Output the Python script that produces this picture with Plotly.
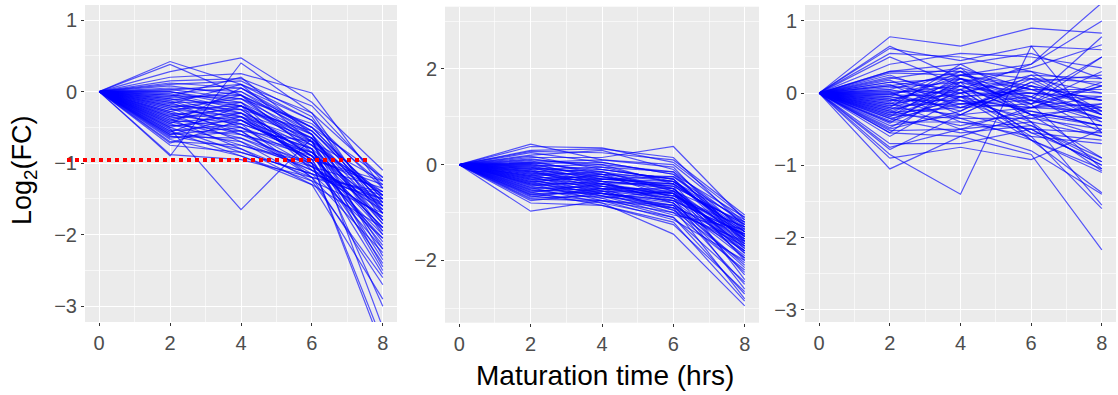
import plotly.graph_objects as go

times = [0, 2, 4, 6, 8]

# Panel 1 (left) values at t = 2, 4, 6, 8 (t = 0 is 0 for every line)
p1_t2 = [0.42, 0.38, 0.28, 0.20, 0.15, 0.12, 0.10, 0.08, 0.05, 0.03, 0.02, 0.00, 0.00, -0.02, -0.03, -0.05, -0.05, -0.07,
         -0.08, -0.10, -0.10, -0.12, -0.13, -0.15, -0.15, -0.17, -0.18, -0.20, -0.20, -0.22, -0.23, -0.25, -0.25, -0.27,
         -0.28, -0.30, -0.30, -0.32, -0.33, -0.35, -0.35, -0.37, -0.38, -0.40, -0.40, -0.42, -0.43, -0.45, -0.45, -0.47,
         -0.48, -0.50, -0.50, -0.52, -0.53, -0.55, -0.55, -0.57, -0.58, -0.60, -0.60, -0.62, -0.63, -0.65, -0.67, -0.70,
         -0.72, -0.75, -0.90, -0.88]
p1_t4 = [0.10, -0.05, 0.47, 0.25, 0.18, 0.05, 0.15, -0.05, 0.00, -0.10, 0.10, -0.20, -0.15, 0.05, -0.25, -0.10, -0.30, 0.20,
         -0.05, -0.35, -0.20, 0.00, -0.40, -0.15, -0.50, 0.10, -0.30, -0.25, -0.45, -0.10, -0.60, -0.35, -0.20, -0.55,
         -0.05, -0.40, -0.70, -0.25, -0.45, -0.15, -0.60, -0.30, -0.80, -0.50, -0.20, -0.65, -0.35, -0.75, 0.05, -0.55,
         -0.40, -0.85, -0.30, -1.65, -0.60, -0.45, -0.90, -0.20, -0.70, -0.50, -0.35, -0.80, -0.65, -0.55, -0.90, -0.75,
         -0.40, -0.85, 0.40, -0.95]
p1_t6 = [-0.30, -0.55, -0.15, -0.02, -0.20, -0.40, -0.35, -0.50, -0.60, -0.45, -0.70, -0.65, -0.80, -0.55, -0.90, -0.75,
         -1.00, -0.60, -0.85, -0.70, -1.10, -0.50, -0.95, -0.65, -1.05, -0.40, -0.80, -0.90, -1.20, -0.60, -0.85, -1.00,
         -0.75, -1.15, -0.70, -0.95, -1.25, -0.55, -0.80, -1.05, -0.90, -0.65, -1.30, -0.85, -0.70, -1.10, -0.95, -1.00,
         -0.50, -1.20, -0.75, -1.15, -0.90, -0.65, -1.05, -0.80, -1.25, -0.60, -1.10, -0.95, -0.85, -1.20, -1.00, -0.70,
         -1.30, -1.05, -0.90, -1.15, -0.30, -1.20]
p1_t8 = [-1.20, -1.45, -1.10, -1.35, -1.25, -1.60, -1.80, -1.50, -2.00, -1.30, -2.20, -1.70, -2.50, -1.55, -1.90, -1.40,
         -3.50, -1.65, -2.10, -1.45, -1.75, -1.20, -2.40, -1.85, -1.60, -1.35, -3.00, -1.95, -1.50, -2.30, -1.70, -3.60,
         -1.45, -2.05, -1.80, -1.25, -2.60, -1.55, -1.65, -2.20, -1.40, -3.30, -1.90, -1.60, -2.45, -1.75, -1.30, -2.00,
         -1.50, -2.70, -1.85, -1.45, -2.15, -1.60, -1.35, -2.35, -1.70, -1.95, -1.50, -2.55, -1.80, -1.40, -2.05, -1.25,
         -2.90, -1.65, -1.90, -1.55, -1.70, -2.25]

# Panel 2 (middle)
p2_t2 = [0.43, 0.38, 0.30, 0.28, 0.25, 0.20, 0.18, 0.15, 0.12, 0.10, 0.08, 0.05, 0.05, 0.03, 0.02, 0.00, 0.00, -0.02,
         -0.03, -0.05, -0.05, -0.07, -0.08, -0.10, -0.10, -0.12, -0.13, -0.15, -0.15, -0.17, -0.18, -0.20, -0.20, -0.22,
         -0.23, -0.25, -0.25, -0.27, -0.28, -0.30, -0.30, -0.32, -0.33, -0.35, -0.35, -0.37, -0.38, -0.40, -0.40, -0.42,
         -0.43, -0.45, -0.47, -0.48, -0.50, -0.52, -0.53, -0.55, -0.57, -0.58, -0.60, -0.62, -0.63, -0.65, -0.67, -0.70,
         -0.72, -0.75, -0.80, -0.97]
p2_t4 = [0.10, 0.35, 0.33, 0.25, 0.05, 0.30, -0.10, 0.15, -0.05, 0.00, -0.20, 0.10, -0.15, -0.30, 0.05, -0.25, -0.10,
         -0.35, 0.00, -0.20, -0.40, -0.15, -0.30, -0.45, -0.05, -0.25, -0.50, -0.35, -0.10, -0.40, -0.20, -0.55, -0.30,
         -0.45, -0.15, -0.60, -0.35, -0.50, -0.25, -0.65, -0.40, -0.30, -0.55, -0.45, -0.70, -0.20, -0.60, -0.40, -0.75,
         -0.50, -0.35, -0.65, -0.55, -0.80, -0.45, -0.60, -0.70, -0.50, -0.85, -0.40, -0.60, -0.75, -0.55, -0.80, -0.50,
         -0.65, -0.75, -0.60, -0.85, -0.75]
p2_t6 = [0.00, 0.05, 0.15, 0.10, -0.20, -0.10, -0.30, 0.38, -0.15, -0.40, -0.25, -0.05, -0.50, -0.35, -0.20, -0.60,
         -0.30, -0.45, -0.15, -0.70, -0.40, -0.55, -0.25, -0.80, -0.35, -0.50, -0.65, -0.45, -0.30, -0.75, -0.55, -0.90,
         -0.40, -0.60, -0.35, -1.00, -0.50, -0.70, -0.45, -0.85, -0.60, -0.40, -0.95, -0.55, -1.10, -0.35, -0.75, -0.65,
         -0.90, -0.50, -0.80, -1.05, -0.60, -1.45, -0.70, -0.85, -0.55, -0.95, -1.20, -0.65, -0.80, -1.00, -0.70, -1.10,
         -0.60, -0.90, -1.15, -0.75, -1.25, -0.85]
p2_t8 = [-1.20, -1.10, -1.30, -1.05, -1.50, -1.40, -1.70, -1.15, -1.25, -2.00, -1.35, -1.60, -1.80, -1.45, -1.10, -2.30,
         -1.55, -1.25, -1.65, -2.60, -1.40, -1.75, -1.20, -2.10, -1.50, -1.85, -1.30, -2.40, -1.60, -1.45, -1.95, -2.80,
         -1.35, -1.70, -1.15, -2.20, -1.55, -1.80, -1.25, -2.50, -1.65, -1.40, -2.05, -1.50, -2.70, -1.30, -1.90, -1.60,
         -1.45, -1.75, -2.15, -1.35, -1.85, -2.95, -1.55, -2.25, -1.20, -1.70, -2.85, -1.40, -1.95, -1.60, -1.30, -2.45,
         -1.50, -1.80, -2.00, -1.45, -2.65, -1.65]

# Panel 3 (right)
p3_t2 = [0.78, 0.65, 0.62, 0.55, 0.50, 0.40, 0.30, 0.30, 0.28, 0.25, 0.22, 0.20, 0.18, 0.15, 0.15, 0.12, 0.10, 0.10,
         0.08, 0.05, 0.05, 0.03, 0.02, 0.00, 0.00, -0.02, -0.03, -0.05, -0.05, -0.07, -0.08, -0.10, -0.10, -0.12, -0.13,
         -0.15, -0.15, -0.17, -0.18, -0.20, -0.20, -0.22, -0.23, -0.25, -0.25, -0.27, -0.28, -0.30, -0.30, -0.32, -0.33,
         -0.35, -0.35, -0.38, -0.40, -0.40, -0.42, -0.45, -0.48, -0.50, -0.52, -0.55, -0.55, -0.60, -0.70, -0.75, -0.78,
         -0.85, -0.90, -1.05]
p3_t4 = [0.65, 0.20, 0.45, 0.50, 0.10, 0.55, 0.30, 0.40, 0.25, -0.10, 0.00, 0.35, -0.20, 0.20, 0.05, -0.30, 0.25, -0.05,
         0.15, -0.15, 0.30, 0.00, -0.40, 0.10, -0.25, 0.20, -0.05, 0.35, -0.20, 0.05, -0.35, 0.15, -0.10, 0.25, -0.50,
         0.00, 0.30, -0.15, 0.10, -0.30, 0.40, -0.05, 0.20, -0.45, 0.05, -0.20, 0.15, -0.35, 0.00, -0.10, 0.25, -0.55,
         -0.15, 0.10, -0.40, -0.05, 0.20, -0.30, 0.05, -0.25, -0.50, 0.15, -0.60, -0.05, -0.70, -0.50, -0.30, -1.40,
         -0.75, -0.60]
p3_t6 = [0.90, -0.10, 0.65, 0.30, -0.30, 0.50, -0.15, 0.55, 0.40, -0.20, 0.25, -0.40, 0.10, -0.05, -0.55, 0.15, 0.05,
         -0.25, 0.35, -0.10, -0.30, 0.20, -0.50, -0.05, 0.25, -0.20, -0.65, 0.05, -0.15, 0.40, -0.35, 0.00, -0.45, 0.10,
         -0.20, -0.60, 0.20, -0.05, -0.30, 0.15, -0.10, -0.40, 0.05, -0.25, -0.55, 0.10, -0.15, -0.65, 0.00, -0.35, 0.30,
         -0.45, -0.20, -0.10, -0.60, 0.05, -0.30, -0.50, -0.15, 0.20, -0.40, -0.65, -0.30, 0.00, -0.50, -0.80, -0.20,
         0.65, -0.92, -0.85]
p3_t8 = [0.83, 0.78, -0.55, 0.10, -0.90, 0.35, -1.05, 0.20, 1.25, 0.15, -0.30, -1.55, -0.10, 0.50, -0.95, -0.25, 0.05,
         -0.45, 0.67, -0.20, -0.60, 0.00, -1.00, -0.35, 0.20, -0.15, -1.38, -0.30, 0.10, 1.00, -0.50, -0.05, -0.90, -0.40,
         -0.25, -1.60, 0.15, -0.55, -0.20, 0.25, -0.35, -1.08, 0.00, -0.45, -0.65, -0.10, 0.50, -1.05, -0.30, -0.15,
         -0.25, -0.95, 0.10, -0.40, -0.70, -0.20, -0.45, -1.00, 0.30, -0.30, -0.60, -1.10, -0.35, -0.10, -0.55, -1.40,
         -0.05, 0.60, -0.50, -2.17]

x_ticks = [0, 2, 4, 6, 8]
x_minor = [1, 3, 5, 7]
y_ticks_1 = [-3, -2, -1, 0, 1]
y_minor_1 = [-2.5, -1.5, -0.5, 0.5]
y_ticks_2 = [-2, 0, 2]
y_minor_2 = [-3, -1, 1, 3]
y_ticks_3 = [-3, -2, -1, 0, 1]
y_minor_3 = [-2.5, -1.5, -0.5, 0.5]
x_title = "Maturation time (hrs)"
y_title = "Log<sub>2</sub>(FC)"

W, H = 1118, 395
FONT = "Liberation Sans, Arial, sans-serif"
LINE = "rgba(0,0,255,0.65)"

panels = [
    (p1_t2, p1_t4, p1_t6, p1_t8, (85, 397), (5, 322), (-3.22, 1.21), y_ticks_1, y_minor_1),
    (p2_t2, p2_t4, p2_t6, p2_t8, (445, 759), (6.7, 322.7), (-3.3, 3.3), y_ticks_2, y_minor_2),
    (p3_t2, p3_t4, p3_t6, p3_t8, (805, 1116), (5, 322), (-3.17, 1.22), y_ticks_3, y_minor_3),
]

fig = go.Figure()
layout = {}
for i, (a, b, c, d, xpx, ypx, yr, yt, ym) in enumerate(panels, start=1):
    sfx = "" if i == 1 else str(i)
    for k in range(len(a)):
        fig.add_trace(go.Scatter(
            x=times, y=[0, a[k], b[k], c[k], d[k]], mode="lines",
            line=dict(color=LINE, width=1.2), showlegend=False, hoverinfo="skip",
            xaxis="x" + sfx, yaxis="y" + sfx))
    common = dict(
        showgrid=True, gridcolor="white", gridwidth=1.1, zeroline=False,
        ticks="outside", ticklen=3, tickwidth=1, tickcolor="#333333",
        tickfont=dict(family=FONT, size=20, color="#4D4D4D"),
        showline=False,
    )
    layout["xaxis" + sfx] = dict(
        common, domain=[xpx[0] / W, xpx[1] / W], range=[-0.4, 8.4],
        tickmode="array", tickvals=x_ticks, anchor="y" + sfx,
        minor=dict(tickmode="array", tickvals=x_minor, showgrid=True,
                   gridcolor="rgba(255,255,255,0.6)", gridwidth=0.6, ticklen=0),
    )
    layout["yaxis" + sfx] = dict(
        common, domain=[1 - ypx[1] / H, 1 - ypx[0] / H], range=list(yr),
        tickmode="array", tickvals=yt, anchor="x" + sfx,
        minor=dict(tickmode="array", tickvals=ym,
                   showgrid=True, gridcolor="rgba(255,255,255,0.6)", gridwidth=0.6, ticklen=0),
    )

fig.update_layout(
    width=W, height=H, margin=dict(l=0, r=0, t=0, b=0),
    paper_bgcolor="white", plot_bgcolor="#EBEBEB", showlegend=False,
    font=dict(family=FONT),
    **layout,
)

# red dotted threshold line at Log2(FC) = -1 (extends over the left panel's tick labels)
fig.add_shape(type="line", xref="paper", yref="paper",
              x0=67 / W, x1=368 / W, y0=1 - 160 / H, y1=1 - 160 / H,
              line=dict(color="#FF0000", width=4, dash="dot"), layer="above")

fig.add_annotation(text=x_title, xref="paper", yref="paper", x=605 / W, y=1 - 375 / H,
                   showarrow=False, font=dict(family=FONT, size=28, color="black"),
                   xanchor="center", yanchor="middle")
fig.add_annotation(text=y_title, xref="paper", yref="paper", x=24 / W, y=1 - 170 / H,
                   showarrow=False, textangle=-90, font=dict(family=FONT, size=27, color="black"),
                   xanchor="center", yanchor="middle")

fig.write_html("out.html")
